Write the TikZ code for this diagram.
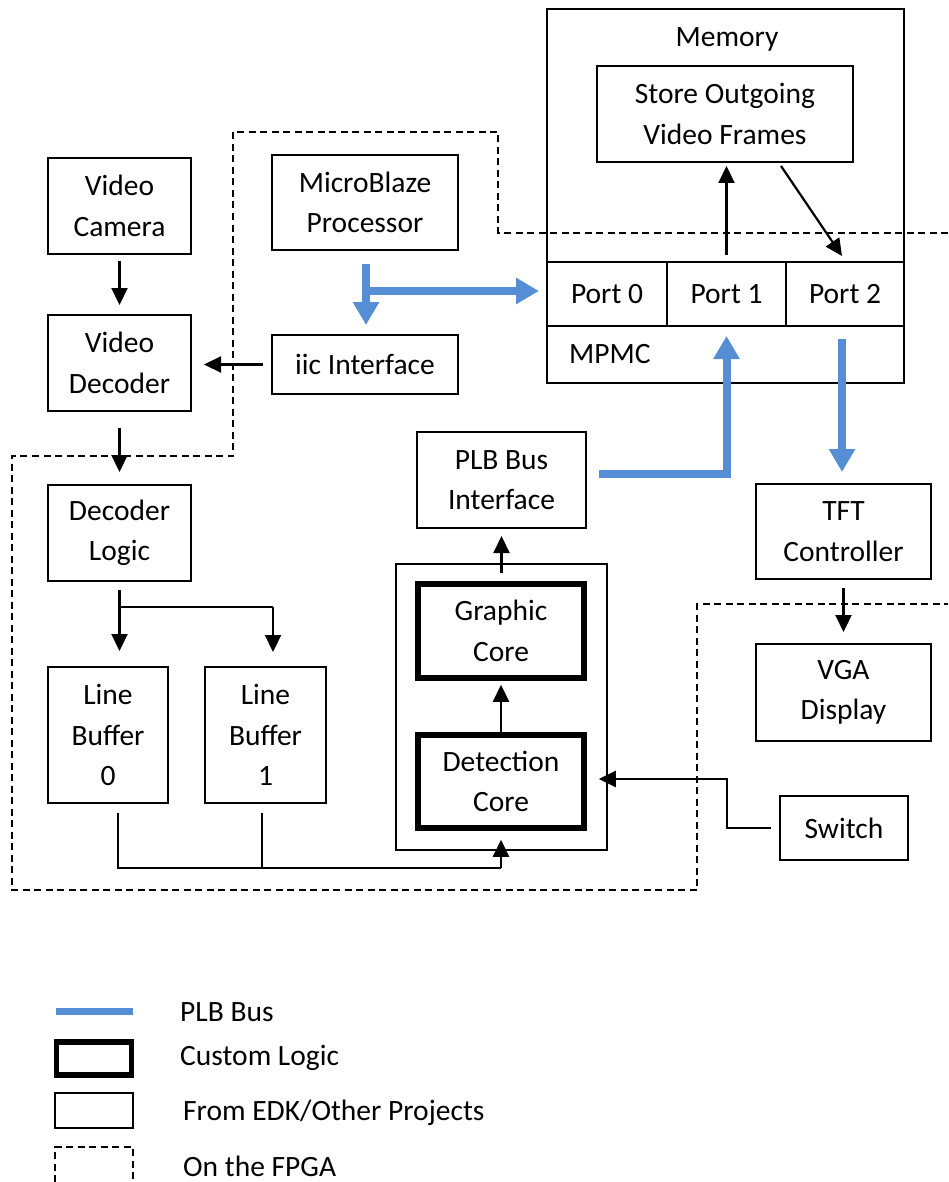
\documentclass[tikz,border=0pt]{standalone}
\usepackage{fontspec}
\setmainfont{Carlito}
\usetikzlibrary{arrows.meta,calc}
\definecolor{plbblue}{HTML}{558ED5}
\tikzset{
  box/.style={draw, line width=2pt, align=center, inner sep=0pt, font=\fontsize{29.5pt}{40.5pt}\selectfont},
  thickbox/.style={box, line width=5.5pt},
  lbl/.style={inner sep=0pt, align=center, font=\fontsize{29.5pt}{40.5pt}\selectfont},
  arr/.style={line width=2.2pt, -{Triangle[length=17pt,width=16pt]}},
  conn/.style={line width=2pt},
  bluearr/.style={plbblue, line width=8pt, -{Triangle[length=23pt,width=25pt]}},
  fpga/.style={line width=1.8pt, dash pattern=on 7pt off 4.5pt},
}
\begin{document}
\begin{tikzpicture}[x=1pt,y=-1pt]
\useasboundingbox (0,0) rectangle (948,1182);
% FPGA boundary
\draw[fpga] (948,233) -- (498,233) -- (498,132) -- (233,132) -- (233,456) -- (12,456) -- (12,890) -- (697,890) -- (697,604) -- (948,604);

% left column
\node[box, minimum width=143pt, minimum height=96pt] (cam) at (119.5,206) {Video\\Camera};
\node[box, minimum width=143pt, minimum height=96pt] (dec) at (119.5,363) {Video\\Decoder};
\node[box, minimum width=143pt, minimum height=96pt] (dl) at (119.5,533) {Decoder\\Logic};
\node[box, minimum width=120pt, minimum height=136pt] (lb0) at (108,735) {Line\\Buffer\\0};
\node[box, minimum width=121pt, minimum height=136pt] (lb1) at (265.5,735) {Line\\Buffer\\1};

% middle
\node[box, minimum width=186pt, minimum height=95pt] (mb) at (365,202.5) {MicroBlaze\\Processor};
\node[box, minimum width=186pt, minimum height=59pt] (iic) at (365,364.5) {iic Interface};
\node[box, minimum width=169pt, minimum height=96pt] (plb) at (501.5,480) {PLB Bus\\Interface};
\node[box, minimum width=211pt, minimum height=286pt] (cont) at (501.5,707) {};
\node[thickbox, minimum width=166pt, minimum height=94pt] (gc) at (501,631) {Graphic\\Core};
\node[thickbox, minimum width=166pt, minimum height=93pt] (dc) at (501,781.5) {Detection\\Core};

% memory
\node[box, minimum width=357pt, minimum height=374pt] (mem) at (725.5,196) {};
\node[lbl] (memlbl) at (727,39) {Memory};
\node[box, minimum width=256pt, minimum height=96pt] (store) at (725,114) {Store Outgoing\\Video Frames};
\node[box, minimum width=120pt, minimum height=64pt] (p0) at (607,294) {Port 0};
\node[box, minimum width=119pt, minimum height=64pt] (p1) at (726.5,294) {Port 1};
\node[box, minimum width=118pt, minimum height=64pt] (p2) at (845,294) {Port 2};
\node[lbl, anchor=west] (mpmc) at (569,354) {MPMC};

% right column
\node[box, minimum width=175pt, minimum height=95pt] (tft) at (843.5,531.5) {TFT\\Controller};
\node[box, minimum width=175pt, minimum height=97pt] (vga) at (843.5,692.5) {VGA\\Display};
\node[box, minimum width=128pt, minimum height=64pt] (sw) at (844,828) {Switch};

% black connectors
\draw[arr] ([yshift=-6pt]cam.south) -- ([yshift=9pt]dec.north);
\draw[arr] ([yshift=-16pt]dec.south) -- ([yshift=12pt]dl.north);
\coordinate (splitL) at (119.5,607);
\coordinate (splitR) at (273,607);
\draw[arr] ([yshift=-8pt]dl.south) -- ([yshift=15pt]dl.south |- lb0.north);
\draw[conn] (splitL) -- (splitR);
\draw[arr] (splitR) -- ++(0,45);
\coordinate (bus) at (501,868);
\draw[conn] ([xshift=10pt,yshift=-9pt]lb0.south) |- (bus);
\draw[conn] ([xshift=-3.5pt,yshift=-9pt]lb1.south) -- ++(0,56);
\draw[arr] (bus) -- ([yshift=-9pt]dc.south);
\coordinate (swbend) at (727,779);
\draw[arr] ([xshift=-8pt]sw.west) -| (swbend) -- ([xshift=12pt]dc.east |- swbend);
\draw[arr] (dc.north) -- ([yshift=-4pt]gc.south);
\draw[arr] ([yshift=-10pt]cont.north) -- ([yshift=-7pt]plb.south);
\draw[arr] ([xshift=-8pt]iic.west) -- ([xshift=12pt]dec.east |- iic.west);
\draw[arr] ([yshift=6pt]p1.north) -- ([yshift=-3pt]p1.north |- store.south);
\draw[arr] ([xshift=56pt,yshift=-3pt]store.south) -- ([xshift=-3pt,yshift=5pt]p2.north);
\draw[arr] ([yshift=-8pt]tft.south) -- ([yshift=11pt]vga.north);

% PLB bus
\coordinate (mbj) at (366,291);
\draw[bluearr] ([xshift=1pt,yshift=-13pt]mb.south) -- ([xshift=1pt,yshift=9pt]iic.north);
\draw[bluearr] (mbj) -- ([xshift=-7pt]p0.west |- mbj);
\draw[bluearr] ([xshift=12pt,yshift=6pt]plb.east) -| ([yshift=-9pt]p1.south);
\draw[bluearr] ([xshift=-3pt,yshift=-12pt]p2.south) -- ([xshift=-1.5pt,yshift=11pt]tft.north);

% legend
\coordinate (lgA) at (56,1011);
\coordinate (lgB) at (133,1011);
\draw[plbblue, line width=7pt] (lgA) -- (lgB);
\node[draw, line width=5.5pt, minimum width=75pt, minimum height=33pt, inner sep=0pt] (lgthick) at (94,1058.5) {};
\node[draw, line width=2pt, minimum width=78pt, minimum height=35pt, inner sep=0pt] (lgthin) at (94,1110.5) {};
\draw[fpga] (55,1182) -- (55,1147) -- (133,1147) -- (133,1182);
\node[lbl, anchor=west] (t1) at (180,1012) {PLB Bus};
\node[lbl, anchor=west] (t2) at (180,1058) {Custom Logic};
\node[lbl, anchor=west] (t3) at (183,1113) {From EDK/Other Projects};
\node[lbl, anchor=west] (t4) at (183,1166) {On the FPGA};
\end{tikzpicture}
\end{document}
